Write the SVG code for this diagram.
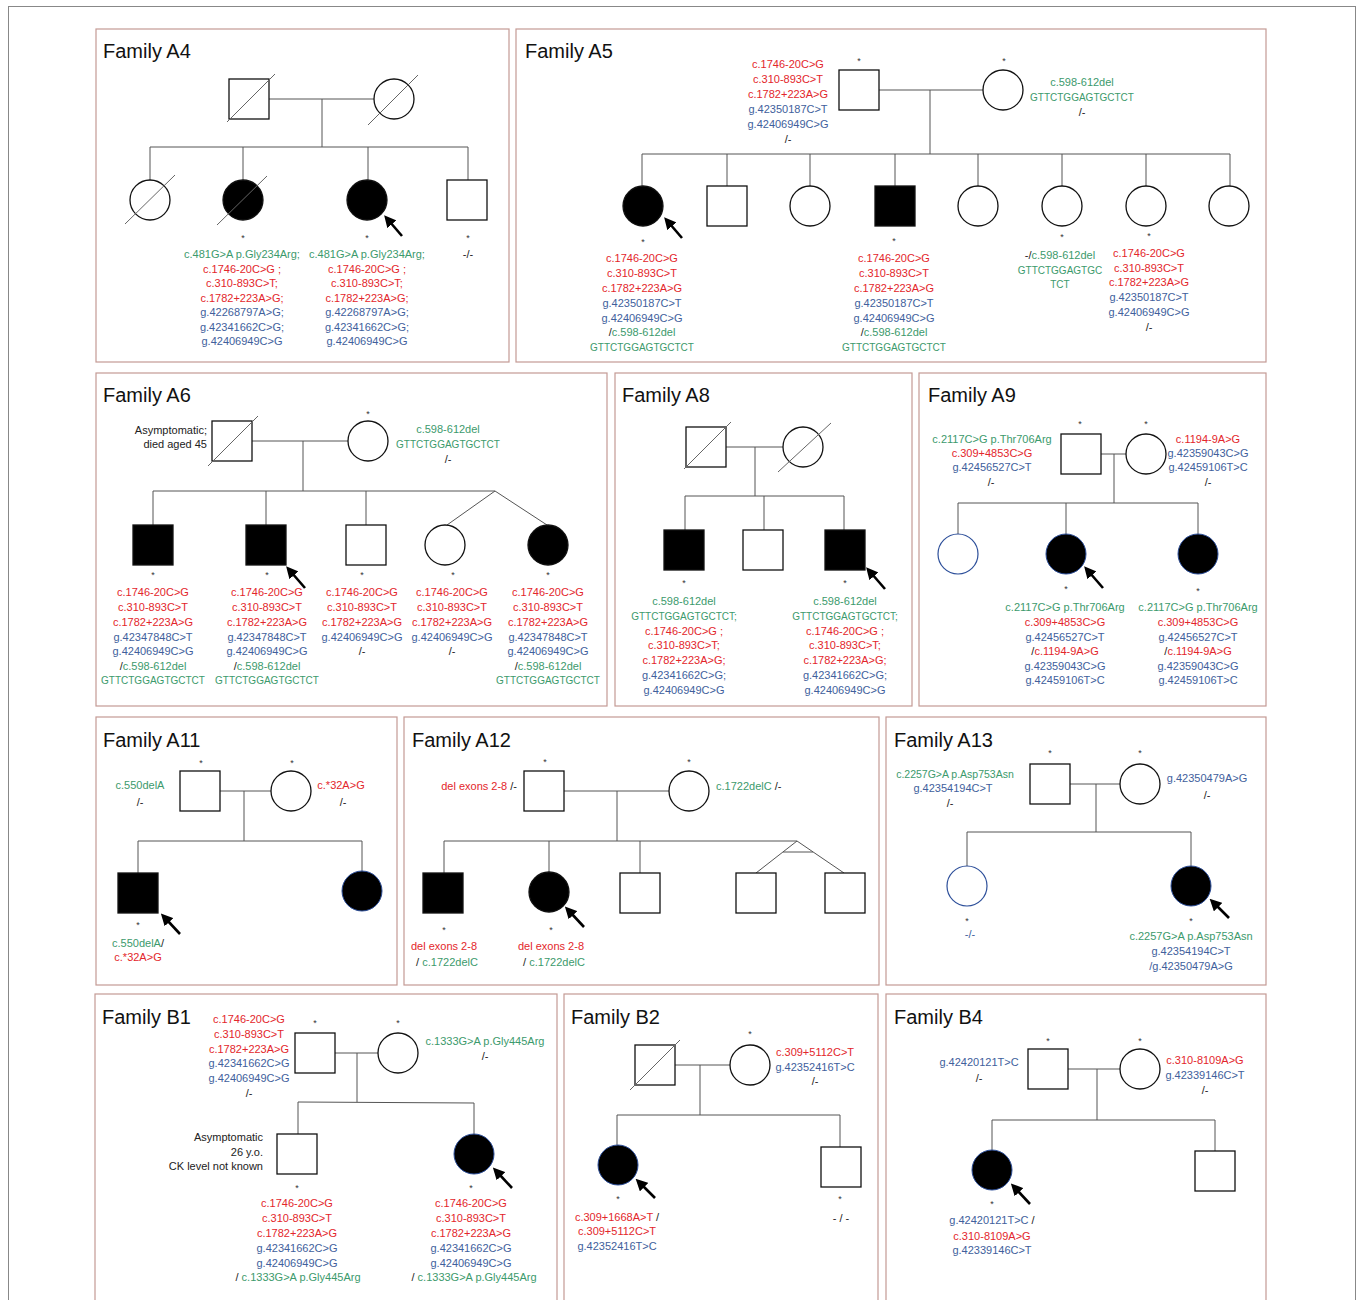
<svg xmlns="http://www.w3.org/2000/svg" width="1360" height="1300" viewBox="0 0 1360 1300">
<style>
text{font-family:"Liberation Sans",Arial,sans-serif;font-size:11px;text-anchor:middle}
.title{font-size:20px;text-anchor:start;fill:#111}
.r{fill:#e3262b}.g{fill:#3c9a6c}.b{fill:#41609c}.k{fill:#222}
.gt{font-size:10px}
.ast{font-size:9px;fill:#333}
.end{text-anchor:end}.st{text-anchor:start}
.panel{fill:none;stroke:#c49a94;stroke-width:1.2}
.sym{fill:#fff;stroke:#111;stroke-width:1.3}
.aff{fill:#000;stroke:#111;stroke-width:1.3}
.affb{fill:#000;stroke:#2d4f9a;stroke-width:1}
.symb{fill:#fff;stroke:#2d4f9a;stroke-width:1.2}
.dec{stroke:#666;stroke-width:1}
.ln{stroke:#555;stroke-width:1;fill:none}
.arr{stroke:#000;stroke-width:2.6;marker-end:url(#ah)}
</style>
<defs>
<marker id="ah" markerUnits="userSpaceOnUse" markerWidth="12" markerHeight="12" refX="3" refY="6" orient="auto">
<path d="M0,0 L12,6 L0,12 z" fill="#000"/>
</marker>
</defs>
<rect x="0" y="0" width="1360" height="1300" fill="#fff"/>
<rect x="8.5" y="6.5" width="1347" height="1310" fill="none" stroke="#888" stroke-width="1"/>

<!-- ================= Family A4 ================= -->
<g id="familyA4">
<rect class="panel" x="96" y="29" width="413" height="333"/>
<text class="title" x="103" y="58">Family A4</text>
<g id="a4-connectors">
<line class="ln" x1="269" y1="99" x2="374" y2="99"/>
<line class="ln" x1="322" y1="99" x2="322" y2="147"/>
<line class="ln" x1="150" y1="147" x2="468" y2="147"/>
<line class="ln" x1="150" y1="147" x2="150" y2="180"/>
<line class="ln" x1="243" y1="147" x2="243" y2="180"/>
<line class="ln" x1="368" y1="147" x2="368" y2="180"/>
<line class="ln" x1="468" y1="147" x2="468" y2="180"/>
</g>
<g id="a4-father"><rect class="sym" x="229" y="79" width="40" height="40"/><line class="dec" x1="227" y1="122" x2="275" y2="74"/></g>
<g id="a4-mother"><circle class="sym" cx="394" cy="99" r="20"/><line class="dec" x1="368" y1="125" x2="418" y2="75"/></g>
<g id="a4-c1"><circle class="sym" cx="150" cy="200" r="20"/><line class="dec" x1="125" y1="224" x2="175" y2="175"/></g>
<g id="a4-c2"><circle class="aff" cx="243" cy="200" r="20"/><line class="dec" x1="217" y1="225" x2="267" y2="176"/>
<text class="ast" x="243" y="241">*</text>
<text x="242" y="258" class="g">c.481G&gt;A p.Gly234Arg;</text>
<text x="242" y="273" class="r">c.1746-20C&gt;G ;</text>
<text x="242" y="287" class="r">c.310-893C&gt;T;</text>
<text x="242" y="302" class="r">c.1782+223A&gt;G;</text>
<text x="242" y="316" class="b">g.42268797A&gt;G;</text>
<text x="242" y="331" class="b">g.42341662C&gt;G;</text>
<text x="242" y="345" class="b">g.42406949C&gt;G</text>
</g>
<g id="a4-c3"><circle class="aff" cx="367" cy="200" r="20"/>
<line class="arr" x1="402" y1="236" x2="390" y2="222"/>
<text class="ast" x="367" y="241">*</text>
<text x="367" y="258" class="g">c.481G&gt;A p.Gly234Arg;</text>
<text x="367" y="273" class="r">c.1746-20C&gt;G ;</text>
<text x="367" y="287" class="r">c.310-893C&gt;T;</text>
<text x="367" y="302" class="r">c.1782+223A&gt;G;</text>
<text x="367" y="316" class="b">g.42268797A&gt;G;</text>
<text x="367" y="331" class="b">g.42341662C&gt;G;</text>
<text x="367" y="345" class="b">g.42406949C&gt;G</text>
</g>
<g id="a4-c4"><rect class="sym" x="447" y="180" width="40" height="40"/>
<text class="ast" x="468" y="241">*</text>
<text x="468" y="258" class="k">-/-</text>
</g>
</g>

<!-- ================= Family A5 ================= -->
<g id="familyA5">
<rect class="panel" x="516" y="29" width="750" height="333"/>
<text class="title" x="525" y="58">Family A5</text>
<g id="a5-connectors">
<line class="ln" x1="879" y1="90" x2="983" y2="90"/>
<line class="ln" x1="930" y1="90" x2="930" y2="154"/>
<line class="ln" x1="642" y1="154" x2="1230" y2="154"/>
<line class="ln" x1="642" y1="154" x2="642" y2="186"/>
<line class="ln" x1="727" y1="154" x2="727" y2="186"/>
<line class="ln" x1="810" y1="154" x2="810" y2="186"/>
<line class="ln" x1="895" y1="154" x2="895" y2="186"/>
<line class="ln" x1="978" y1="154" x2="978" y2="186"/>
<line class="ln" x1="1062" y1="154" x2="1062" y2="186"/>
<line class="ln" x1="1146" y1="154" x2="1146" y2="186"/>
<line class="ln" x1="1230" y1="154" x2="1230" y2="186"/>
</g>
<g id="a5-father"><rect class="sym" x="839" y="70" width="40" height="40"/>
<text class="ast" x="859" y="64">*</text>
<text x="788" y="68" class="r">c.1746-20C&gt;G</text>
<text x="788" y="83" class="r">c.310-893C&gt;T</text>
<text x="788" y="98" class="r">c.1782+223A&gt;G</text>
<text x="788" y="113" class="b">g.42350187C&gt;T</text>
<text x="788" y="128" class="b">g.42406949C&gt;G</text>
<text x="788" y="143" class="k">/-</text>
</g>
<g id="a5-mother"><circle class="sym" cx="1003" cy="90" r="20"/>
<text class="ast" x="1004" y="64">*</text>
<text x="1082" y="86" class="g">c.598-612del</text>
<text x="1082" y="101" class="g gt">GTTCTGGAGTGCTCT</text>
<text x="1082" y="116" class="k">/-</text>
</g>
<g id="a5-c1"><circle class="aff" cx="643" cy="206" r="20"/>
<line class="arr" x1="682" y1="238" x2="670" y2="224"/>
<text class="ast" x="643" y="245">*</text>
<text x="642" y="262" class="r">c.1746-20C&gt;G</text>
<text x="642" y="277" class="r">c.310-893C&gt;T</text>
<text x="642" y="292" class="r">c.1782+223A&gt;G</text>
<text x="642" y="307" class="b">g.42350187C&gt;T</text>
<text x="642" y="322" class="b">g.42406949C&gt;G</text>
<text x="642" y="336"><tspan class="k">/</tspan><tspan class="g">c.598-612del</tspan></text>
<text x="642" y="351" class="g gt">GTTCTGGAGTGCTCT</text>
</g>
<g id="a5-c2"><rect class="sym" x="707" y="186" width="40" height="40"/></g>
<g id="a5-c3"><circle class="sym" cx="810" cy="206" r="20"/></g>
<g id="a5-c4"><rect class="aff" x="875" y="186" width="40" height="40"/>
<text class="ast" x="894" y="244">*</text>
<text x="894" y="262" class="r">c.1746-20C&gt;G</text>
<text x="894" y="277" class="r">c.310-893C&gt;T</text>
<text x="894" y="292" class="r">c.1782+223A&gt;G</text>
<text x="894" y="307" class="b">g.42350187C&gt;T</text>
<text x="894" y="322" class="b">g.42406949C&gt;G</text>
<text x="894" y="336"><tspan class="k">/</tspan><tspan class="g">c.598-612del</tspan></text>
<text x="894" y="351" class="g gt">GTTCTGGAGTGCTCT</text>
</g>
<g id="a5-c5"><circle class="sym" cx="978" cy="206" r="20"/></g>
<g id="a5-c6"><circle class="sym" cx="1062" cy="206" r="20"/>
<text class="ast" x="1062" y="240">*</text>
<text x="1060" y="259"><tspan class="k">-/</tspan><tspan class="g">c.598-612del</tspan></text>
<text x="1060" y="274" class="g gt">GTTCTGGAGTGC</text>
<text x="1060" y="288" class="g gt">TCT</text>
</g>
<g id="a5-c7"><circle class="sym" cx="1146" cy="206" r="20"/>
<text class="ast" x="1149" y="239">*</text>
<text x="1149" y="257" class="r">c.1746-20C&gt;G</text>
<text x="1149" y="272" class="r">c.310-893C&gt;T</text>
<text x="1149" y="286" class="r">c.1782+223A&gt;G</text>
<text x="1149" y="301" class="b">g.42350187C&gt;T</text>
<text x="1149" y="316" class="b">g.42406949C&gt;G</text>
<text x="1149" y="331" class="k">/-</text>
</g>
<g id="a5-c8"><circle class="sym" cx="1229" cy="206" r="20"/></g>
</g>

<!-- ================= Family A6 ================= -->
<g id="familyA6">
<rect class="panel" x="96" y="373" width="511" height="333"/>
<text class="title" x="103" y="402">Family A6</text>
<g id="a6-connectors">
<line class="ln" x1="252" y1="441" x2="348" y2="441"/>
<line class="ln" x1="303" y1="441" x2="303" y2="491"/>
<line class="ln" x1="153" y1="491" x2="495" y2="491"/>
<line class="ln" x1="153" y1="491" x2="153" y2="525"/>
<line class="ln" x1="266" y1="491" x2="266" y2="525"/>
<line class="ln" x1="366" y1="491" x2="366" y2="525"/>
<line class="ln" x1="495" y1="491" x2="447" y2="525"/>
<line class="ln" x1="495" y1="491" x2="547" y2="525"/>
</g>
<g id="a6-father"><rect class="sym" x="212" y="421" width="40" height="40"/><line class="dec" x1="208" y1="466" x2="258" y2="416"/>
<text class="k end" x="207" y="434">Asymptomatic;</text>
<text class="k end" x="207" y="448">died aged 45</text>
</g>
<g id="a6-mother"><circle class="sym" cx="368" cy="441" r="20"/>
<text class="ast" x="368" y="417">*</text>
<text x="448" y="433" class="g">c.598-612del</text>
<text x="448" y="448" class="g gt">GTTCTGGAGTGCTCT</text>
<text x="448" y="463" class="k">/-</text>
</g>
<g id="a6-c1"><rect class="aff" x="133" y="525" width="40" height="40"/>
<text class="ast" x="153" y="578">*</text>
<text x="153" y="596" class="r">c.1746-20C&gt;G</text>
<text x="153" y="611" class="r">c.310-893C&gt;T</text>
<text x="153" y="626" class="r">c.1782+223A&gt;G</text>
<text x="153" y="641" class="b">g.42347848C&gt;T</text>
<text x="153" y="655" class="b">g.42406949C&gt;G</text>
<text x="153" y="670"><tspan class="k">/</tspan><tspan class="g">c.598-612del</tspan></text>
<text x="153" y="684" class="g gt">GTTCTGGAGTGCTCT</text>
</g>
<g id="a6-c2"><rect class="aff" x="246" y="525" width="40" height="40"/>
<line class="arr" x1="305" y1="588" x2="292" y2="573"/>
<text class="ast" x="267" y="578">*</text>
<text x="267" y="596" class="r">c.1746-20C&gt;G</text>
<text x="267" y="611" class="r">c.310-893C&gt;T</text>
<text x="267" y="626" class="r">c.1782+223A&gt;G</text>
<text x="267" y="641" class="b">g.42347848C&gt;T</text>
<text x="267" y="655" class="b">g.42406949C&gt;G</text>
<text x="267" y="670"><tspan class="k">/</tspan><tspan class="g">c.598-612del</tspan></text>
<text x="267" y="684" class="g gt">GTTCTGGAGTGCTCT</text>
</g>
<g id="a6-c3"><rect class="sym" x="346" y="525" width="40" height="40"/>
<text class="ast" x="362" y="578">*</text>
<text x="362" y="596" class="r">c.1746-20C&gt;G</text>
<text x="362" y="611" class="r">c.310-893C&gt;T</text>
<text x="362" y="626" class="r">c.1782+223A&gt;G</text>
<text x="362" y="641" class="b">g.42406949C&gt;G</text>
<text x="362" y="655" class="k">/-</text>
</g>
<g id="a6-c4"><circle class="sym" cx="445" cy="545" r="20"/>
<text class="ast" x="453" y="578">*</text>
<text x="452" y="596" class="r">c.1746-20C&gt;G</text>
<text x="452" y="611" class="r">c.310-893C&gt;T</text>
<text x="452" y="626" class="r">c.1782+223A&gt;G</text>
<text x="452" y="641" class="b">g.42406949C&gt;G</text>
<text x="452" y="655" class="k">/-</text>
</g>
<g id="a6-c5"><circle class="aff" cx="548" cy="545" r="20"/>
<text class="ast" x="548" y="578">*</text>
<text x="548" y="596" class="r">c.1746-20C&gt;G</text>
<text x="548" y="611" class="r">c.310-893C&gt;T</text>
<text x="548" y="626" class="r">c.1782+223A&gt;G</text>
<text x="548" y="641" class="b">g.42347848C&gt;T</text>
<text x="548" y="655" class="b">g.42406949C&gt;G</text>
<text x="548" y="670"><tspan class="k">/</tspan><tspan class="g">c.598-612del</tspan></text>
<text x="548" y="684" class="g gt">GTTCTGGAGTGCTCT</text>
</g>
</g>

<!-- ================= Family A8 ================= -->
<g id="familyA8">
<rect class="panel" x="615" y="373" width="297" height="333"/>
<text class="title" x="622" y="402">Family A8</text>
<g id="a8-connectors">
<line class="ln" x1="726" y1="447" x2="783" y2="447"/>
<line class="ln" x1="755" y1="447" x2="755" y2="496"/>
<line class="ln" x1="685" y1="496" x2="844" y2="496"/>
<line class="ln" x1="685" y1="496" x2="685" y2="530"/>
<line class="ln" x1="764" y1="496" x2="764" y2="530"/>
<line class="ln" x1="844" y1="496" x2="844" y2="530"/>
</g>
<g id="a8-father"><rect class="sym" x="686" y="427" width="40" height="40"/><line class="dec" x1="684" y1="469" x2="731" y2="422"/></g>
<g id="a8-mother"><circle class="sym" cx="803" cy="447" r="20"/><line class="dec" x1="778" y1="472" x2="831" y2="423"/></g>
<g id="a8-c1"><rect class="aff" x="664" y="530" width="40" height="40"/>
<text class="ast" x="684" y="586">*</text>
<text x="684" y="605" class="g">c.598-612del</text>
<text x="684" y="620" class="g gt">GTTCTGGAGTGCTCT;</text>
<text x="684" y="635" class="r">c.1746-20C&gt;G ;</text>
<text x="684" y="649" class="r">c.310-893C&gt;T;</text>
<text x="684" y="664" class="r">c.1782+223A&gt;G;</text>
<text x="684" y="679" class="b">g.42341662C&gt;G;</text>
<text x="684" y="694" class="b">g.42406949C&gt;G</text>
</g>
<g id="a8-c2"><rect class="sym" x="743" y="530" width="40" height="40"/></g>
<g id="a8-c3"><rect class="aff" x="825" y="530" width="40" height="40"/>
<line class="arr" x1="885" y1="589" x2="872" y2="574"/>
<text class="ast" x="845" y="586">*</text>
<text x="845" y="605" class="g">c.598-612del</text>
<text x="845" y="620" class="g gt">GTTCTGGAGTGCTCT;</text>
<text x="845" y="635" class="r">c.1746-20C&gt;G ;</text>
<text x="845" y="649" class="r">c.310-893C&gt;T;</text>
<text x="845" y="664" class="r">c.1782+223A&gt;G;</text>
<text x="845" y="679" class="b">g.42341662C&gt;G;</text>
<text x="845" y="694" class="b">g.42406949C&gt;G</text>
</g>
</g>

<!-- ================= Family A9 ================= -->
<g id="familyA9">
<rect class="panel" x="919" y="373" width="347" height="333"/>
<text class="title" x="928" y="402">Family A9</text>
<g id="a9-connectors">
<line class="ln" x1="1101" y1="454" x2="1126" y2="454"/>
<line class="ln" x1="1114" y1="454" x2="1114" y2="503"/>
<line class="ln" x1="958" y1="503" x2="1198" y2="503"/>
<line class="ln" x1="958" y1="503" x2="958" y2="534"/>
<line class="ln" x1="1066" y1="503" x2="1066" y2="534"/>
<line class="ln" x1="1198" y1="503" x2="1198" y2="534"/>
</g>
<g id="a9-father"><rect class="sym" x="1061" y="434" width="40" height="40"/>
<text class="ast" x="1080" y="427">*</text>
<text x="992" y="443" class="g">c.2117C&gt;G p.Thr706Arg</text>
<text x="992" y="457" class="r">c.309+4853C&gt;G</text>
<text x="992" y="471" class="b">g.42456527C&gt;T</text>
<text x="991" y="486" class="k">/-</text>
</g>
<g id="a9-mother"><circle class="sym" cx="1146" cy="454" r="20"/>
<text class="ast" x="1146" y="427">*</text>
<text x="1208" y="443" class="r">c.1194-9A&gt;G</text>
<text x="1208" y="457" class="b">g.42359043C&gt;G</text>
<text x="1208" y="471" class="b">g.42459106T&gt;C</text>
<text x="1208" y="486" class="k">/-</text>
</g>
<g id="a9-c1"><circle class="symb" cx="958" cy="554" r="20"/></g>
<g id="a9-c2"><circle class="affb" cx="1066" cy="554" r="20"/>
<line class="arr" x1="1103" y1="588" x2="1090" y2="573"/>
<text class="ast" x="1066" y="592">*</text>
<text x="1065" y="611" class="g">c.2117C&gt;G p.Thr706Arg</text>
<text x="1065" y="626" class="r">c.309+4853C&gt;G</text>
<text x="1065" y="641" class="b">g.42456527C&gt;T</text>
<text x="1065" y="655"><tspan class="k">/</tspan><tspan class="r">c.1194-9A&gt;G</tspan></text>
<text x="1065" y="670" class="b">g.42359043C&gt;G</text>
<text x="1065" y="684" class="b">g.42459106T&gt;C</text>
</g>
<g id="a9-c3"><circle class="affb" cx="1198" cy="554" r="20"/>
<text class="ast" x="1198" y="594">*</text>
<text x="1198" y="611" class="g">c.2117C&gt;G p.Thr706Arg</text>
<text x="1198" y="626" class="r">c.309+4853C&gt;G</text>
<text x="1198" y="641" class="b">g.42456527C&gt;T</text>
<text x="1198" y="655"><tspan class="k">/</tspan><tspan class="r">c.1194-9A&gt;G</tspan></text>
<text x="1198" y="670" class="b">g.42359043C&gt;G</text>
<text x="1198" y="684" class="b">g.42459106T&gt;C</text>
</g>
</g>

<!-- ================= Family A11 ================= -->
<g id="familyA11">
<rect class="panel" x="96" y="717" width="301" height="268"/>
<text class="title" x="103" y="747">Family A11</text>
<g id="a11-connectors">
<line class="ln" x1="220" y1="791" x2="271" y2="791"/>
<line class="ln" x1="244" y1="791" x2="244" y2="841"/>
<line class="ln" x1="138" y1="841" x2="362" y2="841"/>
<line class="ln" x1="138" y1="841" x2="138" y2="873"/>
<line class="ln" x1="362" y1="841" x2="362" y2="871"/>
</g>
<g id="a11-father"><rect class="sym" x="180" y="771" width="40" height="40"/>
<text class="ast" x="201" y="766">*</text>
<text x="140" y="789" class="g">c.550delA</text>
<text x="140" y="806" class="k">/-</text>
</g>
<g id="a11-mother"><circle class="sym" cx="291" cy="791" r="20"/>
<text class="ast" x="292" y="766">*</text>
<text x="341" y="789" class="r">c.*32A&gt;G</text>
<text x="343" y="806" class="k">/-</text>
</g>
<g id="a11-c1"><rect class="aff" x="118" y="873" width="40" height="40"/>
<line class="arr" x1="180" y1="934" x2="167" y2="920"/>
<text class="ast" x="138" y="928">*</text>
<text x="138" y="947"><tspan class="g">c.550delA</tspan><tspan class="k">/</tspan></text>
<text x="138" y="961" class="r">c.*32A&gt;G</text>
</g>
<g id="a11-c2"><circle class="affb" cx="362" cy="891" r="20"/></g>
</g>

<!-- ================= Family A12 ================= -->
<g id="familyA12">
<rect class="panel" x="404" y="717" width="475" height="268"/>
<text class="title" x="412" y="747">Family A12</text>
<g id="a12-connectors">
<line class="ln" x1="564" y1="791" x2="669" y2="791"/>
<line class="ln" x1="617" y1="791" x2="617" y2="841"/>
<line class="ln" x1="444" y1="841" x2="797" y2="841"/>
<line class="ln" x1="444" y1="841" x2="444" y2="873"/>
<line class="ln" x1="549" y1="841" x2="549" y2="872"/>
<line class="ln" x1="640" y1="841" x2="640" y2="873"/>
<line class="ln" x1="797" y1="841" x2="756" y2="873"/>
<line class="ln" x1="797" y1="841" x2="844" y2="873"/>
<line class="ln" x1="783" y1="852" x2="813" y2="852"/>
</g>
<g id="a12-father"><rect class="sym" x="524" y="771" width="40" height="40"/>
<text class="ast" x="545" y="765">*</text>
<text class="end" x="517" y="790"><tspan class="r">del exons 2-8</tspan><tspan class="k"> /-</tspan></text>
</g>
<g id="a12-mother"><circle class="sym" cx="689" cy="791" r="20"/>
<text class="ast" x="689" y="765">*</text>
<text class="st" x="716" y="790"><tspan class="g">c.1722delC</tspan><tspan class="k"> /-</tspan></text>
</g>
<g id="a12-c1"><rect class="aff" x="423" y="873" width="40" height="40"/>
<text class="ast" x="444" y="933">*</text>
<text x="444" y="950" class="r">del exons 2-8</text>
<text x="447" y="966"><tspan class="k">/ </tspan><tspan class="g">c.1722delC</tspan></text>
</g>
<g id="a12-c2"><circle class="aff" cx="549" cy="892" r="20"/>
<line class="arr" x1="584" y1="927" x2="571" y2="913"/>
<text class="ast" x="551" y="933">*</text>
<text x="551" y="950" class="r">del exons 2-8</text>
<text x="554" y="966"><tspan class="k">/ </tspan><tspan class="g">c.1722delC</tspan></text>
</g>
<g id="a12-c3"><rect class="sym" x="620" y="873" width="40" height="40"/></g>
<g id="a12-c4"><rect class="sym" x="736" y="873" width="40" height="40"/></g>
<g id="a12-c5"><rect class="sym" x="825" y="873" width="40" height="40"/></g>
</g>

<!-- ================= Family A13 ================= -->
<g id="familyA13">
<rect class="panel" x="886" y="717" width="380" height="268"/>
<text class="title" x="894" y="747">Family A13</text>
<g id="a13-connectors">
<line class="ln" x1="1070" y1="784" x2="1120" y2="784"/>
<line class="ln" x1="1096" y1="784" x2="1096" y2="832"/>
<line class="ln" x1="967" y1="832" x2="1191" y2="832"/>
<line class="ln" x1="967" y1="832" x2="967" y2="866"/>
<line class="ln" x1="1191" y1="832" x2="1191" y2="866"/>
</g>
<g id="a13-father"><rect class="sym" x="1030" y="764" width="40" height="40"/>
<text class="ast" x="1050" y="756">*</text>
<text x="955" y="778" class="g" style="font-size:10.5px">c.2257G&gt;A p.Asp753Asn</text>
<text x="953" y="792" class="b">g.42354194C&gt;T</text>
<text x="950" y="807" class="k">/-</text>
</g>
<g id="a13-mother"><circle class="sym" cx="1140" cy="784" r="20"/>
<text class="ast" x="1140" y="756">*</text>
<text x="1207" y="782" class="b">g.42350479A&gt;G</text>
<text x="1207" y="799" class="k">/-</text>
</g>
<g id="a13-c1"><circle class="symb" cx="967" cy="886" r="20"/>
<text class="ast" x="967" y="924">*</text>
<text x="970" y="938" class="b">-/-</text>
</g>
<g id="a13-c2"><circle class="affb" cx="1191" cy="886" r="20"/>
<line class="arr" x1="1229" y1="918" x2="1216" y2="905"/>
<text class="ast" x="1191" y="924">*</text>
<text x="1191" y="940" class="g">c.2257G&gt;A p.Asp753Asn</text>
<text x="1191" y="955" class="b">g.42354194C&gt;T</text>
<text x="1191" y="970" class="b">/g.42350479A&gt;G</text>
</g>
</g>

<!-- ================= Family B1 ================= -->
<g id="familyB1">
<rect class="panel" x="95" y="994" width="462" height="320"/>
<text class="title" x="102" y="1024">Family B1</text>
<g id="b1-connectors">
<line class="ln" x1="334" y1="1053" x2="378" y2="1053"/>
<line class="ln" x1="357" y1="1053" x2="357" y2="1102"/>
<line class="ln" x1="298" y1="1102" x2="474" y2="1103"/>
<line class="ln" x1="298" y1="1102" x2="298" y2="1134"/>
<line class="ln" x1="474" y1="1103" x2="474" y2="1134"/>
</g>
<g id="b1-father"><rect class="sym" x="295" y="1033" width="40" height="40"/>
<text class="ast" x="315" y="1026">*</text>
<text x="249" y="1023" class="r">c.1746-20C&gt;G</text>
<text x="249" y="1038" class="r">c.310-893C&gt;T</text>
<text x="249" y="1053" class="r">c.1782+223A&gt;G</text>
<text x="249" y="1067" class="b">g.42341662C&gt;G</text>
<text x="249" y="1082" class="b">g.42406949C&gt;G</text>
<text x="249" y="1097" class="k">/-</text>
</g>
<g id="b1-mother"><circle class="sym" cx="398" cy="1053" r="20"/>
<text class="ast" x="398" y="1026">*</text>
<text x="485" y="1045" class="g">c.1333G&gt;A p.Gly445Arg</text>
<text x="485" y="1060" class="k">/-</text>
</g>
<g id="b1-c1"><rect class="sym" x="277" y="1134" width="40" height="40"/>
<text class="k end" x="263" y="1141">Asymptomatic</text>
<text class="k end" x="263" y="1156">26 y.o.</text>
<text class="k end" x="263" y="1170">CK level not known</text>
<text class="ast" x="297" y="1191">*</text>
<text x="297" y="1207" class="r">c.1746-20C&gt;G</text>
<text x="297" y="1222" class="r">c.310-893C&gt;T</text>
<text x="297" y="1237" class="r">c.1782+223A&gt;G</text>
<text x="297" y="1252" class="b">g.42341662C&gt;G</text>
<text x="297" y="1267" class="b">g.42406949C&gt;G</text>
<text x="298" y="1281"><tspan class="k">/ </tspan><tspan class="g">c.1333G&gt;A p.Gly445Arg</tspan></text>
</g>
<g id="b1-c2"><circle class="affb" cx="474" cy="1154" r="20"/>
<line class="arr" x1="512" y1="1188" x2="499" y2="1174"/>
<text class="ast" x="471" y="1191">*</text>
<text x="471" y="1207" class="r">c.1746-20C&gt;G</text>
<text x="471" y="1222" class="r">c.310-893C&gt;T</text>
<text x="471" y="1237" class="r">c.1782+223A&gt;G</text>
<text x="471" y="1252" class="b">g.42341662C&gt;G</text>
<text x="471" y="1267" class="b">g.42406949C&gt;G</text>
<text x="474" y="1281"><tspan class="k">/ </tspan><tspan class="g">c.1333G&gt;A p.Gly445Arg</tspan></text>
</g>
</g>

<!-- ================= Family B2 ================= -->
<g id="familyB2">
<rect class="panel" x="564" y="994" width="314" height="320"/>
<text class="title" x="571" y="1024">Family B2</text>
<g id="b2-connectors">
<line class="ln" x1="675" y1="1065" x2="730" y2="1065"/>
<line class="ln" x1="700" y1="1065" x2="700" y2="1115"/>
<line class="ln" x1="617" y1="1115" x2="840" y2="1115"/>
<line class="ln" x1="617" y1="1115" x2="617" y2="1145"/>
<line class="ln" x1="840" y1="1115" x2="840" y2="1147"/>
</g>
<g id="b2-father"><rect class="sym" x="635" y="1045" width="40" height="40"/><line class="dec" x1="630" y1="1090" x2="680" y2="1040"/></g>
<g id="b2-mother"><circle class="sym" cx="750" cy="1065" r="20"/>
<text class="ast" x="750" y="1037">*</text>
<text x="815" y="1056" class="r">c.309+5112C&gt;T</text>
<text x="815" y="1071" class="b">g.42352416T&gt;C</text>
<text x="815" y="1085" class="k">/-</text>
</g>
<g id="b2-c1"><circle class="affb" cx="618" cy="1165" r="20"/>
<line class="arr" x1="655" y1="1198" x2="642" y2="1185"/>
<text class="ast" x="618" y="1202">*</text>
<text x="617" y="1221"><tspan class="r">c.309+1668A&gt;T</tspan><tspan class="k"> /</tspan></text>
<text x="617" y="1235" class="r">c.309+5112C&gt;T</text>
<text x="617" y="1250" class="b">g.42352416T&gt;C</text>
</g>
<g id="b2-c2"><rect class="sym" x="821" y="1147" width="40" height="40"/>
<text class="ast" x="840" y="1202">*</text>
<text x="841" y="1222" class="k">- / -</text>
</g>
</g>

<!-- ================= Family B4 ================= -->
<g id="familyB4">
<rect class="panel" x="886" y="994" width="380" height="320"/>
<text class="title" x="894" y="1024">Family B4</text>
<g id="b4-connectors">
<line class="ln" x1="1068" y1="1069" x2="1120" y2="1069"/>
<line class="ln" x1="1097" y1="1069" x2="1097" y2="1120"/>
<line class="ln" x1="992" y1="1120" x2="1215" y2="1120"/>
<line class="ln" x1="992" y1="1120" x2="992" y2="1150"/>
<line class="ln" x1="1215" y1="1120" x2="1215" y2="1151"/>
</g>
<g id="b4-father"><rect class="sym" x="1028" y="1049" width="40" height="40"/>
<text class="ast" x="1048" y="1044">*</text>
<text x="979" y="1066" class="b">g.42420121T&gt;C</text>
<text x="979" y="1082" class="k">/-</text>
</g>
<g id="b4-mother"><circle class="sym" cx="1140" cy="1069" r="20"/>
<text class="ast" x="1140" y="1044">*</text>
<text x="1205" y="1064" class="r">c.310-8109A&gt;G</text>
<text x="1205" y="1079" class="b">g.42339146C&gt;T</text>
<text x="1205" y="1094" class="k">/-</text>
</g>
<g id="b4-c1"><circle class="affb" cx="992" cy="1170" r="20"/>
<line class="arr" x1="1030" y1="1204" x2="1017" y2="1190"/>
<text class="ast" x="992" y="1207">*</text>
<text x="992" y="1224"><tspan class="b">g.42420121T&gt;C</tspan><tspan class="k"> /</tspan></text>
<text x="992" y="1240" class="r">c.310-8109A&gt;G</text>
<text x="992" y="1254" class="b">g.42339146C&gt;T</text>
</g>
<g id="b4-c2"><rect class="sym" x="1195" y="1151" width="40" height="40"/></g>
</g>
</svg>
